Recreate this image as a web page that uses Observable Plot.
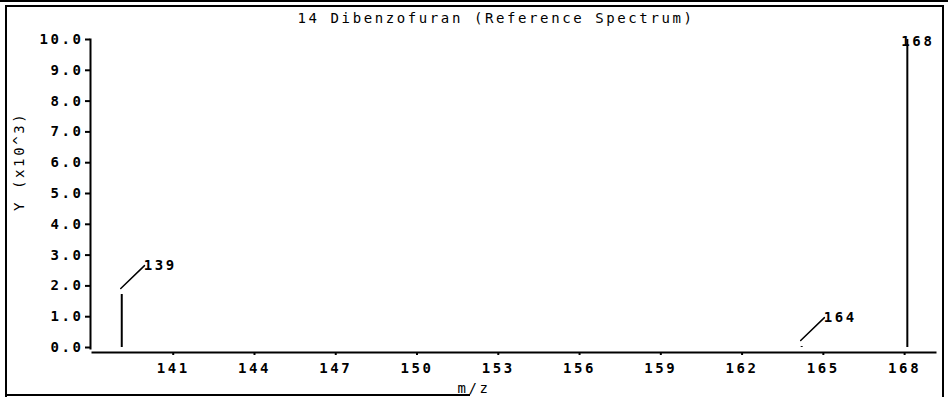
<!DOCTYPE html>
<html>
<head>
<meta charset="utf-8">
<script src="https://cdn.jsdelivr.net/npm/d3@7"></script>
<script src="https://cdn.jsdelivr.net/npm/@observablehq/plot@0.6"></script>
<style>
  html, body { margin: 0; padding: 0; background: #fff; }
  #wrap { position: relative; width: 948px; height: 397px; overflow: hidden; }
  #box { position: absolute; left: 5px; top: 5px; width: 939px; height: 400px; border: 2px solid #000; box-sizing: border-box; pointer-events: none; }
  #topline { position: absolute; left: 0; top: 0; width: 948px; height: 2px; background: #000; pointer-events: none; }
  #botline { position: absolute; left: 5px; top: 394px; width: 465px; height: 2px; background: #000; pointer-events: none; }
</style>
</head>
<body>
<div id="wrap"><div id="topline"></div><div id="box"></div><div id="botline"></div></div>
<script>
// Data
const title = "14 Dibenzofuran (Reference Spectrum)";
const mz = [139.1, 164.2, 168.1];
const peakLabels = ["139", "164", "168"];
const intensity = [1.72, 0.03, 10.0]; // Y (x10^3)
const xTicks = [141, 144, 147, 150, 153, 156, 159, 162, 165, 168];
const yTicks = [0, 1, 2, 3, 4, 5, 6, 7, 8, 9, 10];
const xLabel = "m/z";
const yLabel = "Y (x10^3)";

const peaks = mz.map((m, i) => ({mz: m, y: intensity[i], label: peakLabels[i]}));
const small = peaks.filter(d => d.y < 9);
const big = peaks.filter(d => d.y >= 9);

const lineShape = {draw(context, l) { context.moveTo(0, 0); context.lineTo(0, -l); }};

const chart = Plot.plot({
  width: 948,
  height: 397,
  marginLeft: 92,
  marginRight: 13,
  marginTop: 39,
  marginBottom: 45,
  x: {domain: [138.02, 169.14]},
  y: {domain: [0, 10], insetBottom: 5},
  style: {fontFamily: "'DejaVu Sans Mono', monospace", fontSize: "14px", letterSpacing: "2.6px", color: "#000", background: "transparent"},
  marks: [
    Plot.frame({anchor: "bottom", strokeWidth: 2}),
    Plot.frame({anchor: "left", dx: -2, insetBottom: 4, strokeWidth: 2}),
    Plot.axisX({ticks: xTicks, tickSize: 3, tickPadding: 8, label: null, strokeWidth: 2, fontWeight: "bold"}),
    Plot.axisY({ticks: yTicks, tickFormat: d => d.toFixed(1), tickSize: 5, tickPadding: 2, dx: -2, label: null, strokeWidth: 2, fontWeight: "bold"}),
    Plot.ruleX(peaks, {x: "mz", y1: 0, y2: "y", strokeWidth: 2}),
    Plot.vector(small, {x: "mz", y: "y", dx: -1, dy: -6, anchor: "start", length: 33, rotate: 46, shape: lineShape, strokeWidth: 1.5}),
    Plot.text(small, {x: "mz", y: "y", text: "label", textAnchor: "start", lineAnchor: "bottom", dx: 22, dy: -25, fontWeight: "bold"}),
    Plot.text(big, {x: "mz", y: "y", text: "label", textAnchor: "start", lineAnchor: "bottom", dx: -6, dy: 6, fontWeight: "bold"}),
    Plot.text([title], {frameAnchor: "top", lineAnchor: "bottom", dx: -18, dy: -17, letterSpacing: "3px"}),
    Plot.text([xLabel], {frameAnchor: "bottom", lineAnchor: "middle", dx: -40, dy: 36}),
    Plot.text([yLabel], {frameAnchor: "left", rotate: -90, lineAnchor: "middle", dx: -73, dy: 15})
  ]
});
chart.style.position = "absolute";
chart.style.left = "0";
chart.style.top = "0";
document.getElementById("wrap").prepend(chart);
</script>
</body>
</html>
